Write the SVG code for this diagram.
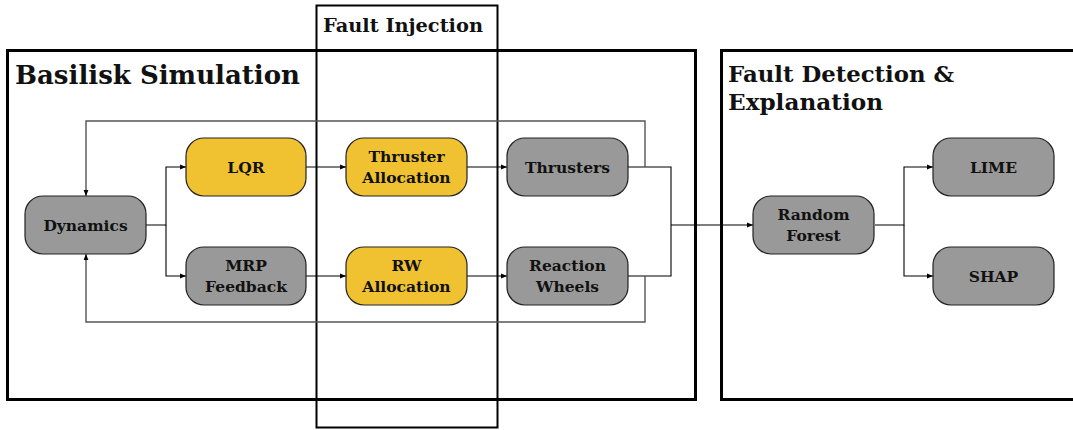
<svg xmlns="http://www.w3.org/2000/svg" width="1073" height="430" viewBox="0 0 1073 430">
<defs>
<marker id="ah" viewBox="0 0 10 10" refX="10" refY="5" markerWidth="6" markerHeight="6" markerUnits="userSpaceOnUse" orient="auto">
<path d="M0,1 L10,5 L0,9 z" fill="#000"/>
</marker>
<style>
.frame{fill:none;stroke:#000;stroke-width:3}
.fi{fill:none;stroke:#000;stroke-width:2}
.title{font-family:"DejaVu Serif","Liberation Serif",serif;font-weight:bold;fill:#111}
.gray{fill:#999999;stroke:#222;stroke-width:1.2}
.yel{fill:#F0C232;stroke:#222;stroke-width:1.2}
.lbl{font-family:"DejaVu Serif","Liberation Serif",serif;font-weight:bold;font-size:15.5px;fill:#111;text-anchor:middle}
.c{fill:none;stroke:#000;stroke-width:1.1}
.fb{fill:none;stroke:#555;stroke-width:1.4}
</style>
</defs>
<rect x="0" y="0" width="1073" height="430" fill="#fff"/>
<g id="basilisk-frame">
<rect class="frame" x="7.5" y="50.5" width="688" height="349"/>
<text class="title" x="15" y="84" font-size="26" textLength="285" lengthAdjust="spacingAndGlyphs">Basilisk Simulation</text>
</g>
<g id="detection-frame">
<rect class="frame" x="721.5" y="50.5" width="360" height="349"/>
<text class="title" x="728" y="82" font-size="22" textLength="226" lengthAdjust="spacingAndGlyphs">Fault Detection &amp;</text>
<text class="title" x="728" y="110" font-size="22" textLength="155" lengthAdjust="spacingAndGlyphs">Explanation</text>
</g>
<g id="injection-frame">
<rect class="fi" x="316.5" y="5.5" width="181" height="422"/>
<text class="title" x="323" y="32" font-size="18.5" textLength="160" lengthAdjust="spacingAndGlyphs">Fault Injection</text>
</g>
<g id="connectors">
<polyline class="c" points="146,225 166,225 166,167 186,167" marker-end="url(#ah)"/>
<polyline class="c" points="166,225 166,276 186,276" marker-end="url(#ah)"/>
<line class="c" x1="306" y1="167" x2="346" y2="167" marker-end="url(#ah)"/>
<line class="c" x1="306" y1="276" x2="346" y2="276" marker-end="url(#ah)"/>
<line class="c" x1="467" y1="167" x2="507" y2="167" marker-end="url(#ah)"/>
<line class="c" x1="467" y1="276" x2="507" y2="276" marker-end="url(#ah)"/>
<polyline class="c" points="628,167 671,167 671,276 628,276"/>
<line class="c" x1="671" y1="225" x2="753" y2="225" marker-end="url(#ah)"/>
<polyline class="fb" points="645,167 645,121 86,121 86,196" marker-end="url(#ah)"/>
<polyline class="fb" points="645,276 645,322 86,322 86,254" marker-end="url(#ah)"/>
<polyline class="c" points="875,225 904,225 904,167 933,167" marker-end="url(#ah)"/>
<polyline class="c" points="904,225 904,276 933,276" marker-end="url(#ah)"/>
</g>
<g id="dynamics"><rect class="gray" x="25" y="196" width="121" height="58" rx="18"/><text class="lbl" x="85.5" y="231">Dynamics</text></g>
<g id="lqr"><rect class="yel" x="186" y="138" width="120" height="58" rx="18"/><text class="lbl" x="246" y="173">LQR</text></g>
<g id="mrp-feedback"><rect class="gray" x="186" y="247" width="120" height="58" rx="18"/><text class="lbl" x="246" y="271">MRP</text><text class="lbl" x="246" y="292">Feedback</text></g>
<g id="thruster-allocation"><rect class="yel" x="346" y="138" width="121" height="58" rx="18"/><text class="lbl" x="406.5" y="162">Thruster</text><text class="lbl" x="406.5" y="183">Allocation</text></g>
<g id="rw-allocation"><rect class="yel" x="346" y="247" width="121" height="58" rx="18"/><text class="lbl" x="406.5" y="271">RW</text><text class="lbl" x="406.5" y="292">Allocation</text></g>
<g id="thrusters"><rect class="gray" x="507" y="138" width="121" height="58" rx="18"/><text class="lbl" x="567.5" y="173">Thrusters</text></g>
<g id="reaction-wheels"><rect class="gray" x="507" y="247" width="121" height="58" rx="18"/><text class="lbl" x="567.5" y="271">Reaction</text><text class="lbl" x="567.5" y="292">Wheels</text></g>
<g id="random-forest"><rect class="gray" x="753" y="196" width="121" height="58" rx="18"/><text class="lbl" x="813.5" y="220">Random</text><text class="lbl" x="813.5" y="241">Forest</text></g>
<g id="lime"><rect class="gray" x="933" y="138" width="121" height="58" rx="18"/><text class="lbl" x="993.5" y="173">LIME</text></g>
<g id="shap"><rect class="gray" x="933" y="247" width="121" height="58" rx="18"/><text class="lbl" x="993.5" y="282">SHAP</text></g>
</svg>
